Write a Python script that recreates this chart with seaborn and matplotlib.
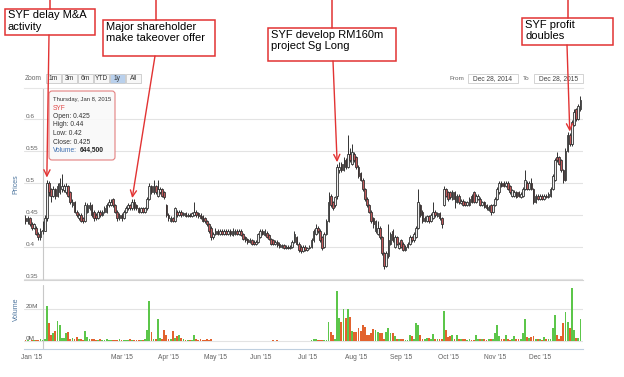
import numpy as np
import pandas as pd
import matplotlib
matplotlib.use('Agg')
import matplotlib.pyplot as plt
from matplotlib.patches import Rectangle, FancyBboxPatch
from matplotlib.ticker import FormatStrFormatter
import seaborn as sns


# SYF daily candles, Dec 29 2014 - Dec 28 2015 (one value per trading day)

dates = pd.bdate_range('2014-12-29', '2015-12-28')

opens = [
    .445, .440, .445, .435, .430, .430, .420, .415, .425, .425,
    .445, .500, .490, .480, .490, .480, .485, .490, .488, .485,
    .495, .485, .465, .470, .455, .445, .450, .445, .440, .455,
    .460, .465, .455, .450, .445, .455, .450, .455, .455, .465,
    .465, .475, .465, .455, .445, .450, .445, .455, .460, .465,
    .460, .470, .465, .460, .455, .460, .455, .460, .475, .495,
    .485, .495, .480, .485, .490, .485, .465, .450, .440, .445,
    .440, .455, .450, .455, .450, .452, .448, .450, .448, .450,
    .455, .452, .450, .448, .445, .440, .435, .430, .415, .420,
    .425, .420, .425, .420, .425, .420, .425, .418, .420, .425,
    .420, .425, .420, .415, .412, .408, .410, .408, .405, .408,
    .415, .425, .418, .422, .418, .412, .410, .405, .408, .405,
    .400, .402, .398, .400, .398, .400, .408, .415, .405, .400,
    .393, .400, .395, .398, .400, .410, .420, .430, .425, .415,
    .400, .420, .440, .480, .470, .465, .480, .520, .530, .520,
    .535, .525, .545, .530, .545, .540, .525, .515, .505, .490,
    .475, .465, .455, .445, .425, .420, .430, .415, .390, .370,
    .385, .405, .425, .400, .415, .398, .410, .405, .395, .400,
    .405, .415, .410, .415, .430, .465, .455, .440, .440, .448,
    .440, .445, .455, .448, .452, .445, .465, .490, .485, .485,
    .475, .485, .470, .480, .468, .472, .470, .465, .465, .480,
    .485, .470, .475, .475, .465, .470, .465, .458, .465, .455,
    .465, .475, .485, .500, .500, .495, .500, .495, .480, .480,
    .485, .485, .478, .480, .490, .500, .490, .500, .490, .470,
    .480, .475, .480, .475, .480, .478, .480, .490, .505, .540,
    .540, .535, .520, .505, .550, .575, .560, .590, .615, .600,
    .615,
]

closes = [
    .440, .445, .435, .430, .435, .420, .415, .425, .425, .445,
    .500, .485, .480, .490, .480, .495, .500, .495, .495, .495,
    .480, .470, .470, .455, .450, .450, .440, .440, .465, .465,
    .465, .450, .445, .445, .455, .450, .455, .460, .465, .470,
    .470, .465, .455, .445, .450, .445, .455, .460, .465, .460,
    .470, .460, .460, .455, .460, .455, .460, .475, .495, .485,
    .495, .485, .490, .490, .480, .478, .450, .445, .445, .440,
    .460, .450, .455, .450, .452, .448, .450, .448, .452, .455,
    .450, .448, .445, .440, .440, .435, .425, .415, .420, .425,
    .420, .425, .420, .425, .420, .425, .420, .425, .425, .420,
    .425, .418, .412, .410, .408, .410, .405, .404, .408, .420,
    .425, .420, .425, .415, .412, .405, .405, .408, .402, .400,
    .403, .398, .400, .398, .400, .408, .420, .405, .395, .393,
    .400, .395, .398, .400, .410, .425, .430, .425, .410, .398,
    .420, .440, .470, .465, .460, .478, .525, .525, .520, .530,
    .525, .545, .535, .548, .535, .525, .510, .505, .490, .475,
    .465, .455, .440, .435, .440, .430, .415, .390, .370, .390,
    .410, .420, .410, .415, .405, .405, .400, .395, .400, .405,
    .415, .410, .420, .430, .470, .450, .440, .445, .448, .440,
    .450, .455, .450, .452, .445, .435, .490, .480, .475, .478,
    .485, .475, .480, .470, .472, .465, .465, .470, .475, .470,
    .470, .480, .480, .465, .470, .462, .460, .462, .455, .465,
    .475, .490, .500, .495, .495, .500, .490, .485, .488, .485,
    .478, .480, .482, .490, .505, .490, .500, .490, .470, .480,
    .475, .480, .475, .480, .478, .482, .490, .510, .535, .535,
    .530, .520, .505, .550, .575, .560, .595, .610, .600, .620,
    .630,
]

highs = [
    .450, .448, .447, .438, .437, .432, .423, .430, .440, .450,
    .505, .502, .492, .495, .492, .500, .508, .514, .498, .500,
    .497, .487, .474, .472, .458, .453, .452, .447, .470, .468,
    .470, .467, .457, .452, .458, .457, .458, .463, .468, .475,
    .474, .476, .467, .457, .453, .452, .458, .463, .468, .467,
    .475, .474, .467, .462, .462, .462, .462, .478, .500, .497,
    .505, .497, .505, .493, .492, .487, .467, .452, .448, .447,
    .462, .457, .458, .457, .455, .454, .453, .452, .455, .470,
    .457, .454, .452, .450, .447, .442, .437, .432, .423, .430,
    .427, .427, .427, .428, .427, .427, .427, .430, .428, .427,
    .427, .427, .422, .417, .414, .413, .412, .410, .410, .422,
    .427, .427, .428, .424, .420, .414, .412, .410, .410, .407,
    .405, .404, .402, .402, .402, .410, .425, .417, .407, .402,
    .403, .402, .400, .403, .413, .428, .435, .432, .427, .417,
    .423, .443, .485, .482, .472, .480, .530, .532, .533, .540,
    .538, .575, .555, .560, .548, .542, .527, .517, .507, .492,
    .477, .467, .457, .447, .442, .440, .432, .417, .392, .393,
    .435, .423, .427, .418, .417, .408, .412, .407, .403, .408,
    .418, .417, .423, .432, .490, .467, .457, .448, .450, .450,
    .453, .470, .457, .455, .454, .447, .495, .492, .487, .487,
    .488, .487, .483, .482, .475, .474, .472, .472, .478, .483,
    .487, .483, .483, .477, .472, .472, .467, .465, .467, .467,
    .478, .493, .503, .503, .503, .503, .502, .497, .490, .488,
    .487, .487, .485, .493, .520, .502, .503, .508, .492, .483,
    .482, .483, .482, .483, .482, .485, .493, .513, .538, .548,
    .542, .537, .522, .555, .580, .578, .598, .615, .617, .623,
    .635,
]

lows = [
    .435, .436, .432, .426, .427, .418, .410, .410, .420, .425,
    .440, .480, .470, .478, .475, .478, .483, .485, .485, .483,
    .478, .467, .462, .452, .446, .442, .438, .437, .438, .452,
    .458, .447, .440, .442, .443, .447, .448, .452, .453, .462,
    .463, .462, .452, .440, .442, .440, .443, .452, .457, .457,
    .458, .458, .457, .453, .453, .453, .453, .458, .473, .482,
    .483, .482, .478, .482, .478, .475, .447, .440, .438, .438,
    .438, .447, .448, .447, .448, .446, .446, .446, .446, .448,
    .447, .445, .443, .438, .437, .432, .422, .410, .412, .418,
    .418, .418, .418, .418, .418, .418, .417, .416, .418, .418,
    .418, .416, .410, .407, .405, .406, .403, .402, .403, .406,
    .413, .418, .416, .413, .410, .403, .403, .403, .400, .398,
    .398, .396, .396, .396, .396, .398, .406, .403, .392, .390,
    .391, .393, .393, .396, .398, .408, .418, .422, .407, .395,
    .398, .418, .438, .462, .457, .462, .475, .515, .517, .518,
    .522, .523, .532, .528, .532, .522, .507, .502, .487, .472,
    .462, .452, .437, .430, .422, .418, .412, .387, .365, .368,
    .383, .403, .407, .398, .402, .396, .398, .393, .393, .398,
    .403, .408, .408, .413, .428, .447, .437, .438, .438, .437,
    .438, .443, .447, .446, .442, .430, .463, .477, .472, .475,
    .473, .461, .468, .467, .466, .463, .463, .463, .463, .468,
    .468, .468, .473, .463, .463, .460, .457, .456, .450, .453,
    .463, .473, .483, .493, .493, .493, .488, .483, .478, .478,
    .476, .478, .476, .478, .488, .488, .488, .488, .467, .468,
    .473, .473, .473, .473, .476, .476, .478, .488, .503, .532,
    .527, .517, .500, .503, .548, .557, .558, .588, .597, .598,
    .612,
]

# volume in millions of shares
volumes = [
    0.5, 0.4, 0.3, 0.6, 0.4, 0.5, 0.8, 1.0, 0.6445, 1.0,
    22, 11.5, 4, 5, 6, 12.5, 10, 2, 2, 5,
    5.5, 1.5, 2, 1.2, 2.5, 1.5, 1, 0.8, 6.5, 2.5,
    1, 1.2, 1, 0.8, 0.6, 1.0, 0.8, 0.5, 1.0, 0.7,
    0.6, 0.9, 0.5, 0.8, 1.1, 0.6, 0.7, 0.5, 0.9, 1.0,
    0.6, 0.8, 0.5, 0.4, 0.6, 0.8, 1.0, 7, 25, 5.5,
    1, 1.5, 13.5, 2, 1.5, 7, 4, 1.5, 1, 6.5,
    2, 3, 3.5, 2, 1, 0.8, 0.6, 0.8, 0.5, 4,
    1, 0.8, 1, 0.7, 0.9, 1, 0.6, 1.2, 0.3, 0.2,
    0.2, 0.3, 0.2, 0.1, 0.2, 0.3, 0.2, 0.2, 0.1, 0.2,
    0.3, 0.2, 0.2, 0.3, 0.2, 0.1, 0.2, 0.3, 0.2, 0.2,
    0.3, 0.2, 0.2, 0.3, 0.2, 0.3, 0.5, 0.2, 0.5, 0.2,
    0.2, 0.3, 0.2, 0.2, 0.1, 0.3, 0.2, 0.2, 0.3, 0.2,
    0.2, 0.3, 0.2, 0.3, 0.4, 1, 1.5, 0.5, 0.5, 0.5,
    0.5, 0.8, 12, 5.5, 4, 1, 31, 14.5, 12, 20,
    14.5, 20, 15, 6, 5.5, 5.5, 8, 6.5, 10, 8.5,
    4, 4, 5, 7.5, 7, 5.5, 5, 5, 1.5, 5.5,
    8, 5, 5, 3, 1, 1.5, 1.5, 1, 0.5, 0.5,
    3.5, 3, 1, 11.5, 10, 3.5, 1.5, 1, 2, 2,
    1, 4.5, 1.5, 1, 1, 1, 19, 7, 2.5, 3,
    4, 1.5, 4, 1.5, 1, 1.5, 1, 0.5, 1, 0.5,
    0.5, 4, 1.5, 1.5, 1, 1, 0.5, 1, 1, 1,
    5, 10, 3, 1.5, 1.5, 3.5, 1, 0.5, 1.5, 3,
    1, 1, 1, 5, 13.5, 2.5, 2, 2.5, 3, 1,
    1, 1, 0.5, 2.5, 1, 1, 1, 8, 16.5, 3.5,
    1.5, 3, 11, 18, 12, 8, 33, 7, 2, 2,
    13.5,
]

month_starts = ['2015-01-01', '2015-03-01', '2015-04-01', '2015-05-01',
                '2015-06-01', '2015-07-01', '2015-08-01', '2015-09-01',
                '2015-10-01', '2015-11-01', '2015-12-01']
month_labels = ["Jan '15", "Mar '15", "Apr '15", "May '15", "Jun '15",
                "Jul '15", "Aug '15", "Sep '15", "Oct '15", "Nov '15",
                "Dec '15"]

price_ticks = [0.35, 0.4, 0.45, 0.5, 0.55, 0.6]
volume_ticks = [0, 20]
volume_tick_labels = ['0M', '20M']

zoom_buttons = ['1m', '3m', '6m', 'YTD', '1y', 'All']
range_from = 'Dec 28, 2014'
range_to = 'Dec 28, 2015'

# (text, box in px, x of the line above the box, day and price the arrow points at)
events = [
    ('SYF delay M&A\nactivity', (5, 9, 95, 35), 50, 10, 0.508),
    ('Major shareholder\nmake takeover offer', (103, 20, 215, 56), 156, 50, 0.476),
    ('SYF develop RM160m\nproject Sg Long', (268, 28, 396, 61), 332, 146, 0.532),
    ('SYF profit\ndoubles', (522, 18, 613, 45), 568, 255, 0.580),
]
tooltip_day = 8

assert len(opens) == len(closes) == len(highs) == len(lows) == len(volumes) == len(dates)


sns.set_style('white')
plt.rcParams['font.family'] = ['Liberation Sans', 'DejaVu Sans']

W, H = 624, 377
RED = '#e23333'
GREY_TXT = '#606060'

fig = plt.figure(figsize=(W / 100, H / 100), dpi=100)


def px_rect(x0, y0, x1, y1):
    return [x0 / W, 1 - y1 / H, (x1 - x0) / W, (y1 - y0) / H]


ax_p = fig.add_axes(px_rect(24, 88, 583, 280))
ax_v = fig.add_axes(px_rect(24, 285, 583, 349))
over = fig.add_axes([0, 0, 1, 1], zorder=10)
over.set_xlim(0, W)
over.set_ylim(H, 0)
over.axis('off')

idx = np.arange(len(closes))
o = np.array(opens)
c = np.array(closes)
up = c >= o

# CANDLES

ax_p.vlines(idx, lows, highs, color='#333333', lw=0.7, zorder=2)
ax_p.bar(
    idx,
    np.maximum(np.abs(c - o), 0.001),
    bottom=np.minimum(o, c),
    width=0.78,
    color=np.where(up, '#eeeeee', '#c0585a'),
    edgecolor='#333333',
    linewidth=0.6,
    zorder=3
)

# VOLUME (categorical positions 0..N-1 line up with the candle index)

vol_df = pd.DataFrame({
    'day': idx,
    'volume': volumes,
    'direction': np.where(up, 'up', 'down')
})

sns.barplot(
    data=vol_df,
    x='day',
    y='volume',
    hue='direction',
    order=list(idx),
    palette={'up': '#5cc64a', 'down': '#e2622e'},
    width=0.85,
    dodge=False,
    saturation=1,
    errorbar=None,
    legend=False,
    linewidth=0,
    ax=ax_v
)

# AXES STYLE

for ax in (ax_p, ax_v):
    ax.set_xlim(-0.7, 261.2)
ax_p.set_ylim(0.348, 0.648)
ax_v.set_ylim(-5, 35)

for ax, ticks in ((ax_p, price_ticks), (ax_v, volume_ticks)):
    ax.set_yticks(ticks)
    ax.set_axisbelow(True)
    ax.grid(axis='y', color='#e3e3e3', lw=0.8)
    ax.grid(axis='x', visible=False)
    ax.tick_params(axis='y', length=0, pad=-1.5, labelsize=4.6,
                   labelcolor=GREY_TXT)
    for sp in ax.spines.values():
        sp.set_visible(False)

ax_p.yaxis.set_major_formatter(FormatStrFormatter('%g'))
ax_v.set_yticklabels(volume_tick_labels)
for ax in (ax_p, ax_v):
    for t in ax.get_yticklabels():
        t.set_horizontalalignment('left')
        t.set_verticalalignment('bottom')

ax_p.spines['top'].set_visible(True)
ax_p.spines['top'].set_color('#e6e6e6')
ax_p.spines['bottom'].set_visible(True)
ax_p.spines['bottom'].set_color('#d4d4d4')
ax_v.spines['bottom'].set_visible(True)
ax_v.spines['bottom'].set_color('#c0d0e0')

ax_p.tick_params(axis='x', bottom=False, labelbottom=False)

month_pos = [int(np.argmax(dates >= pd.Timestamp(m))) for m in month_starts]
ax_v.set_xticks(month_pos)
ax_v.set_xticklabels(month_labels)
ax_v.tick_params(axis='x', length=2, color='#c0d0e0', labelsize=4.8,
                 labelcolor=GREY_TXT, pad=1.5)
ax_v.set_xlabel('')

ax_p.set_ylabel('Prices', color='#4d759e', fontsize=5)
ax_p.yaxis.set_label_coords(-0.008, 0.5)
ax_v.set_ylabel('Volume', color='#4d759e', fontsize=5)
ax_v.yaxis.set_label_coords(-0.008, 0.62)

# crosshair on the tooltip day
ax_p.axvline(tooltip_day, color='#c8c8c8', lw=0.8, zorder=1)
ax_v.axvline(tooltip_day, color='#c8c8c8', lw=0.8, zorder=1)

# RANGE SELECTOR

over.text(25, 78.5, 'Zoom', fontsize=4.8, color='#666666', va='center')
for k, label in enumerate(zoom_buttons):
    bx = 45.7 + k * 16.1
    selected = label == '1y'
    over.add_patch(Rectangle(
        (bx, 73.5), 14.8, 9.5,
        fc='#b9d0ec' if selected else '#f7f7f7',
        ec='#c8c8c8', lw=0.6
    ))
    over.text(bx + 7.4, 78.5, label, fontsize=4.8, color='#333333',
              ha='center', va='center')

over.text(450, 78.5, 'From', fontsize=4.6, color='#666666', va='center')
over.add_patch(Rectangle((468, 73.5), 50, 9.5, fc='white', ec='#cccccc', lw=0.6))
over.text(493, 78.5, range_from, fontsize=4.8, color='#444444',
          ha='center', va='center')
over.text(523, 78.5, 'To', fontsize=4.6, color='#666666', va='center')
over.add_patch(Rectangle((534, 73.5), 49, 9.5, fc='white', ec='#cccccc', lw=0.6))
over.text(558.5, 78.5, range_to, fontsize=4.8, color='#444444',
          ha='center', va='center')

# TOOLTIP

over.add_patch(FancyBboxPatch(
    (49, 91), 66, 69,
    boxstyle='round,pad=0,rounding_size=3',
    fc=(0.975, 0.975, 0.975, 0.9), ec='#e38080', lw=0.8
))
d = dates[tooltip_day]
over.text(53, 99, d.strftime('%A, %b %-d, %Y'), fontsize=4.2,
          color='#333333', va='center')
over.text(53, 108, 'SYF', fontsize=4.8, color='#e04848', va='center')
tip_rows = [
    ('Open', opens[tooltip_day]),
    ('High', highs[tooltip_day]),
    ('Low', lows[tooltip_day]),
    ('Close', closes[tooltip_day]),
]
for k, (name, val) in enumerate(tip_rows):
    over.text(53, 116.5 + k * 8.5, f'{name}: {val:g}', fontsize=4.8,
              color='#333333', va='center')
over.text(53, 150.5, 'Volume:', fontsize=4.8, color='#3d6fb0', va='center')
over.text(79.5, 150.5, f'{volumes[tooltip_day] * 1e6:,.0f}', fontsize=4.8,
          color='#222222', fontweight='bold', va='center')

# EVENT CALLOUTS

for text, (x0, y0, x1, y1), top_x, day, price in events:
    over.add_patch(Rectangle((x0, y0), x1 - x0, y1 - y0,
                             fc='white', ec=RED, lw=1.1))
    over.text(x0 + 3, y0 + 1.5, text, fontsize=8, color='black',
              va='top', ha='left', linespacing=1.15)
    over.plot([top_x, top_x], [0, y0], color=RED, lw=1.1)
    start_x = top_x + 1 if price > 0.53 and day < 200 else top_x - 1
    over.annotate(
        '',
        xy=(day, price), xycoords=ax_p.transData,
        xytext=(start_x, y1),
        textcoords=over.transData,
        arrowprops=dict(arrowstyle='->,head_length=0.45,head_width=0.22',
                        color=RED, lw=1.0, shrinkA=0, shrinkB=0)
    )

fig.savefig('out.png', dpi=100)
